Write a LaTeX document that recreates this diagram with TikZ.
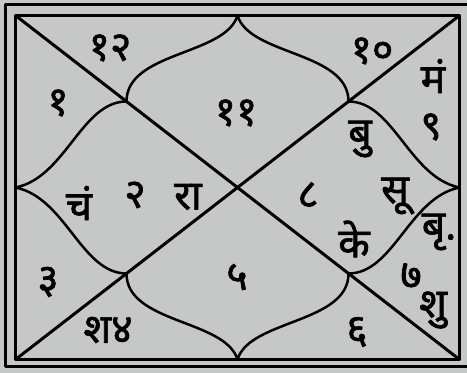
\documentclass[tikz,border=0pt]{standalone}
\usepackage{fontspec}
\newfontfamily\devfont[Script=Devanagari, FakeBold=1.6]{Noto Sans}
\usepackage{tikz}
\definecolor{paper}{RGB}{198,200,199}

\begin{document}
\begin{tikzpicture}[x=0.3mm, y=-0.3mm, line join=round, line cap=round]
      \tikzset{chartline/.style={line width=0.9mm},
        lotus/.style={line width=0.75mm},
        sign/.style={font=\devfont\fontsize{35}{38}\selectfont, inner sep=0pt}}
      \def\xl{15.5}
      \def\xr{459.5}
      \def\yt{15.5}
      \def\yb{359.5}
      \fill[paper] (0,0) rectangle (467,373);
      \useasboundingbox (0,0) rectangle (467,373);
      \coordinate (A) at (\xl,\yt); \coordinate (B) at (\xr,\yt);
      \coordinate (C) at (\xr,\yb); \coordinate (D) at (\xl,\yb);
      \coordinate (T) at (237.5,\yt); \coordinate (L) at (\xl,187.5);
      \coordinate (R) at (\xr,187.5); \coordinate (M) at (237.5,\yb);
      \coordinate (P) at (126.5,101.5); \coordinate (Q) at (348.5,101.5);
      \coordinate (S) at (348.5,273.5); \coordinate (U) at (126.5,273.5);
      % frames
      \draw[chartline] (467,5) -- (5,5) -- (5,367) -- (467,367);
      \draw[chartline] (A) rectangle (C);
      \draw[chartline] (A) -- (C);
      \draw[chartline] (B) -- (D);
      % lotus
      \draw[lotus] (T) .. controls +(-12,40) and +(0,-50) .. (P)
        .. controls +(-45,0) and +(50,-10) .. (L)
        .. controls +(50,10) and +(-45,0) .. (U)
        .. controls +(0,50) and +(-12,-40) .. (M)
        .. controls +(12,-40) and +(0,50) .. (S)
        .. controls +(45,0) and +(-50,10) .. (R)
        .. controls +(-50,-10) and +(45,0) .. (Q)
        .. controls +(0,-50) and +(12,40) .. (T);
      % signs and planets
      \node[sign] (h12) at (110,48) {१२};
      \node[sign] (h1) at (58,103) {१};
      \node[sign] (h11) at (236,113) {११};
      \node[sign] (h10) at (372,51) {१०};
      \node[sign] (mangal) at (433,76) {मं};
      \node[sign] (h9) at (431,127) {९};
      \node[sign] (budh) at (360,139) {बु};
      \node[sign] (chandra) at (79,203) {चं};
      \node[sign] (h2) at (135,195) {२};
      \node[sign] (rahu) at (188,197) {रा};
      \node[sign] (h3) at (48,282) {३};
      \node[sign] (h4) at (108,330) {श४};
      \node[sign] (h5) at (237,277) {५};
      \node[sign] (h8) at (308,195) {८};
      \node[sign] (surya) at (395,196) {सू};
      \node[sign] (ketu) at (354,239) {के};
      \node[sign] (guru) at (439,232) {बृ.};
      \node[sign] (h7) at (411,276) {७};
      \node[sign] (shukra) at (433,310) {शु};
      \node[sign] (h6) at (357,332) {६};
    \end{tikzpicture}
\end{document}
